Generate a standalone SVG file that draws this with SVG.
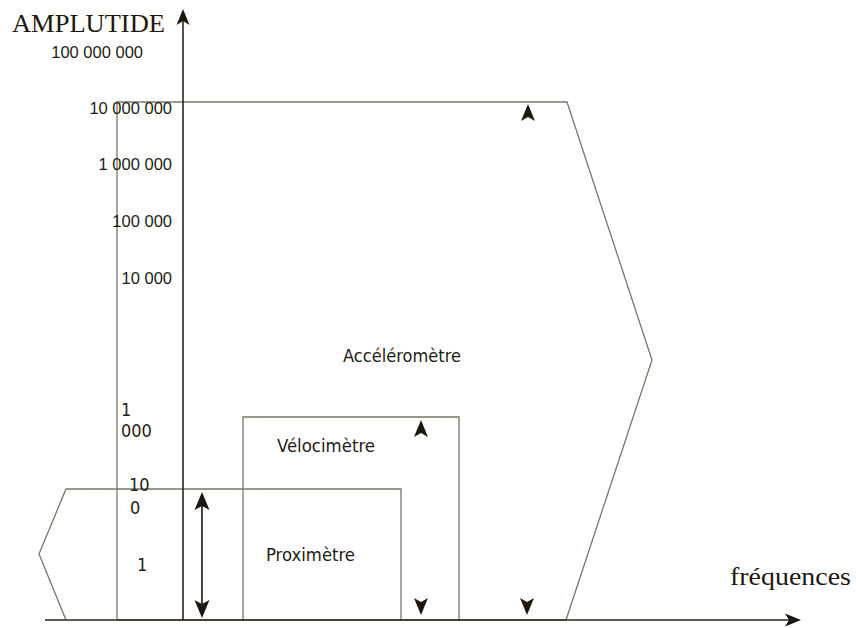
<svg xmlns="http://www.w3.org/2000/svg" width="856" height="628" viewBox="0 0 856 628">
  <defs>
    <style>
      .shape { fill: none; stroke: #7a7764; stroke-width: 1.3; }
      .axis { fill: none; stroke: #2b2418; stroke-width: 1.6; }
      .head { fill: #1e170d; stroke: none; }
      .serif { font-family: "Liberation Serif", "Times New Roman", serif; fill: #1e170d; }
      .num { font-family: "Liberation Sans", Arial, sans-serif; font-size: 16.5px; fill: #231c14; }
      .lbl { font-family: "DejaVu Sans Condensed", "DejaVu Sans", sans-serif; font-stretch: condensed; font-size: 18px; fill: #231c14; }
    </style>
    <path id="up" d="M0,0 L7,17 L0,13 L-7,17 Z"/>
    <path id="down" d="M0,0 L7,-17 L0,-13 L-7,-17 Z"/>
  </defs>
  <rect width="856" height="628" fill="#ffffff"/>

  <g id="accelerometre">
    <polygon class="shape" points="117,620 117,102 567,102 652,360 566,620"/>
    <text class="lbl" x="343" y="362" textLength="118" lengthAdjust="spacingAndGlyphs">Accéléromètre</text>
  </g>

  <g id="velocimetre">
    <polyline class="shape" points="243,620 243,417 459,417 459,620"/>
    <text class="lbl" x="277" y="452" textLength="98" lengthAdjust="spacingAndGlyphs">Vélocimètre</text>
  </g>

  <g id="proximetre">
    <polyline class="shape" points="66,620 39,554 66,489 401,489 401,620"/>
    <text class="lbl" x="266" y="561" textLength="89" lengthAdjust="spacingAndGlyphs">Proximètre</text>
  </g>

  <g id="axes">
    <line class="axis" x1="183" y1="620" x2="183" y2="20"/>
    <polygon class="head" points="183,9 189.5,25 183,21 176.5,25"/>
    <line class="axis" x1="45" y1="620" x2="790" y2="620"/>
    <polygon class="head" points="801,620 785,613.5 789,620 785,626.5"/>
    <text class="serif" x="12" y="32" font-size="26" textLength="153" lengthAdjust="spacingAndGlyphs">AMPLUTIDE</text>
    <text class="serif" x="730" y="585" font-size="26" textLength="121" lengthAdjust="spacingAndGlyphs">fréquences</text>
  </g>

  <g id="scale">
    <text class="num" x="143" y="58" text-anchor="end">100 000 000</text>
    <text class="num" x="172" y="114" text-anchor="end">10 000 000</text>
    <text class="num" x="172" y="170" text-anchor="end">1 000 000</text>
    <text class="num" x="172" y="227" text-anchor="end">100 000</text>
    <text class="num" x="172" y="284" text-anchor="end">10 000</text>
    <text class="lbl" x="121" y="416" font-size="17">1</text>
    <text class="lbl" x="121" y="437" font-size="17">000</text>
    <text class="lbl" x="129" y="491" font-size="17">10</text>
    <text class="lbl" x="130" y="514" font-size="17">0</text>
    <text class="lbl" x="137" y="571" font-size="17">1</text>
  </g>

  <g id="connectors">
    <line x1="202" y1="500" x2="202" y2="610" stroke="#4a4438" stroke-width="2"/>
    <polygon class="head" points="202,492 209.5,510 202,506 194.5,510"/>
    <polygon class="head" points="202,618 209.5,600 202,604 194.5,600"/>
    <use href="#up" class="head" x="421" y="420"/>
    <use href="#down" class="head" x="421" y="615"/>
    <use href="#up" class="head" x="528" y="104"/>
    <use href="#down" class="head" x="527" y="615"/>
  </g>
</svg>
